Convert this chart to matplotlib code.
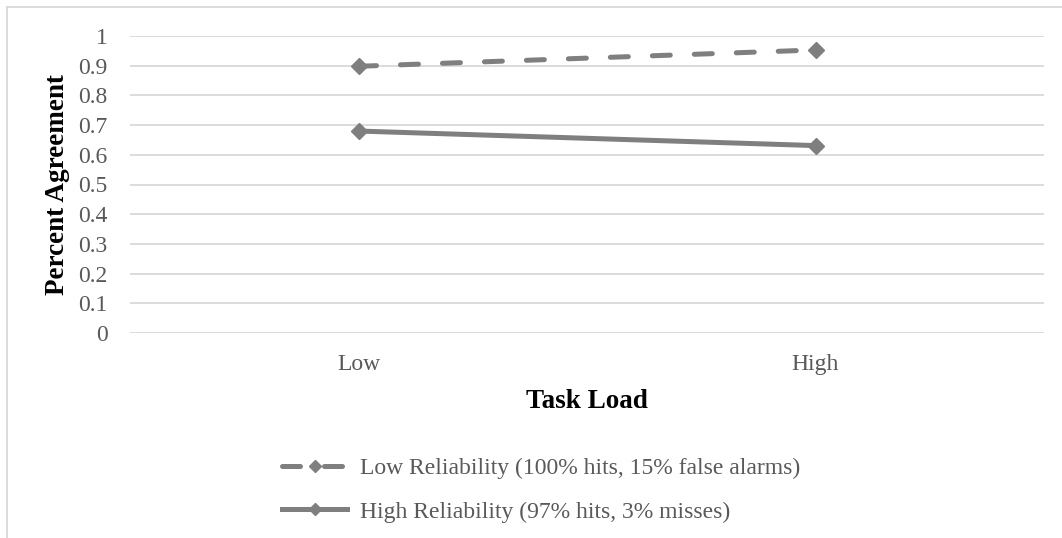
import matplotlib.pyplot as plt
from matplotlib.lines import Line2D

# data
categories = ["Low", "High"]
low_rel = [0.898, 0.953]
high_rel = [0.680, 0.631]
series_labels = ["Low Reliability (100% hits, 15% false alarms)",
                 "High Reliability (97% hits, 3% misses)"]
y_ticks = [0, 0.1, 0.2, 0.3, 0.4, 0.5, 0.6, 0.7, 0.8, 0.9, 1]

plt.rcParams['font.family'] = ['Liberation Serif', 'DejaVu Serif']
W, H = 1062, 538
grey = '#7f7f7f'

fig = plt.figure(figsize=(W / 100, H / 100), dpi=100)
ax = fig.add_axes([130 / W, 1 - 333 / H, (1044 - 130) / W, (333 - 36) / H])

x = [0, 1]
ax.plot(x, low_rel, color=grey, lw=3.6, ls=(0, (3.6, 4.8)), dash_capstyle='round',
        marker='D', ms=8, label=series_labels[0])
ax.plot(x, high_rel, color=grey, lw=3.6, marker='D', ms=8, label=series_labels[1])

ax.set_xlim(-0.5, 1.5)
ax.set_ylim(0, 1)
ax.set_yticks(y_ticks)
ax.set_yticklabels([f"{t:g}" for t in y_ticks])
ax.set_xticks(x)
ax.set_xticklabels(categories)
ax.grid(axis='y', color='#d9d9d9', lw=1.3)
ax.set_axisbelow(True)
for s in ax.spines.values():
    s.set_visible(False)
ax.tick_params(length=0, labelsize=17, labelcolor='#595959')
ax.tick_params(axis='y', pad=16)
ax.tick_params(axis='x', pad=15)

ax.set_xlabel("Task Load", fontsize=19.5, fontweight='bold', labelpad=10)
ax.set_ylabel("Percent Agreement", fontsize=19.5, fontweight='bold', labelpad=6)

leg = fig.legend(loc='center left', bbox_to_anchor=(261 / W, 1 - 490 / H),
                 frameon=False, fontsize=17, handlelength=2.75, handletextpad=0.55,
                 labelspacing=0.95, markerscale=0.75)
for t in leg.get_texts():
    t.set_color('#595959')

# chart frame (left and top edges visible in the crop)
fig.add_artist(Line2D([7 / W, 7 / W], [0, 1 - 7 / H], color='#d9d9d9', lw=1.3))
fig.add_artist(Line2D([7 / W, 1], [1 - 7 / H, 1 - 7 / H], color='#d9d9d9', lw=1.3))

fig.savefig("out.png", dpi=100)
